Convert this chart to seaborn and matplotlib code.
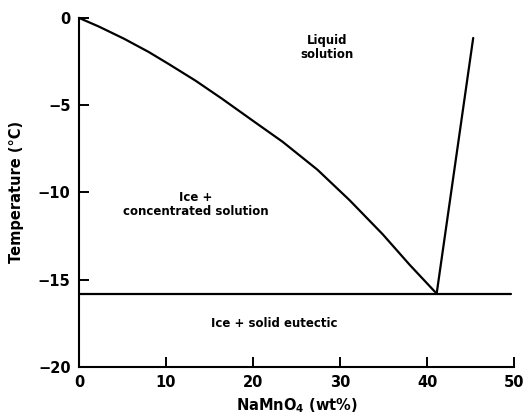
import matplotlib
matplotlib.use("Agg")
import matplotlib.pyplot as plt
import seaborn as sns
import pandas as pd

# Ice liquidus (freezing-point depression curve)
ice_x = [0, 2.3, 5.2, 8.0, 10.3, 13.4, 16.4, 20.0, 23.4, 27.4, 31.1, 34.9, 38.0, 41.1]
ice_t = [0, -0.5, -1.2, -1.95, -2.64, -3.6, -4.62, -5.9, -7.1, -8.7, -10.45, -12.4, -14.15, -15.8]

# Salt-side liquidus rising from the eutectic point
salt_x = [41.1, 45.3]
salt_t = [-15.8, -1.15]

# Eutectic isotherm
eutectic_x = [0, 49.6]
eutectic_t = [-15.8, -15.8]

x_ticks = [0, 10, 20, 30, 40, 50]
y_ticks = [0, -5, -10, -15, -20]

sns.set_style("ticks")
plt.rcParams["font.family"] = ["DejaVu Sans"]
plt.rcParams["text.color"] = "black"
plt.rcParams["axes.labelcolor"] = "black"

fig = plt.figure(figsize=(5.23, 4.16), dpi=100)
ax = fig.add_axes([0.151, 0.118, 0.832, 0.839])

lw = 1.6
for xs, ts in [(ice_x, ice_t), (salt_x, salt_t), (eutectic_x, eutectic_t)]:
    df = pd.DataFrame({"x": xs, "t": ts})
    sns.lineplot(data=df, x="x", y="t", ax=ax, color="black", lw=lw,
                 sort=False, estimator=None, clip_on=False)

ax.set_xlim(0, 50)
ax.set_ylim(-20, 0)
ax.set_xticks(x_ticks)
ax.set_yticks(y_ticks)
ax.tick_params(direction="in", length=7, width=1.4, labelsize=10.5,
               colors="black", pad=6)
for lab in ax.get_xticklabels() + ax.get_yticklabels():
    lab.set_fontweight("bold")

sns.despine(ax=ax)
for s in ["left", "bottom"]:
    ax.spines[s].set_linewidth(1.5)
    ax.spines[s].set_color("black")

ax.set_xlabel("NaMnO$_\\mathbf{4}$ (wt%)", fontsize=10.5, fontweight="bold",
              labelpad=4)
ax.set_ylabel("Temperature (°C)", fontsize=10.5, fontweight="bold",
              labelpad=10)

txt = dict(ha="center", va="center", fontsize=8.5, fontweight="bold",
           linespacing=1.1, color="black")
ax.text(28.5, -1.7, "Liquid\nsolution", **txt)
ax.text(13.4, -10.7, "Ice +\nconcentrated solution", **txt)
ax.text(22.4, -17.5, "Ice + solid eutectic", **txt)

fig.savefig("out.png", dpi=100)
